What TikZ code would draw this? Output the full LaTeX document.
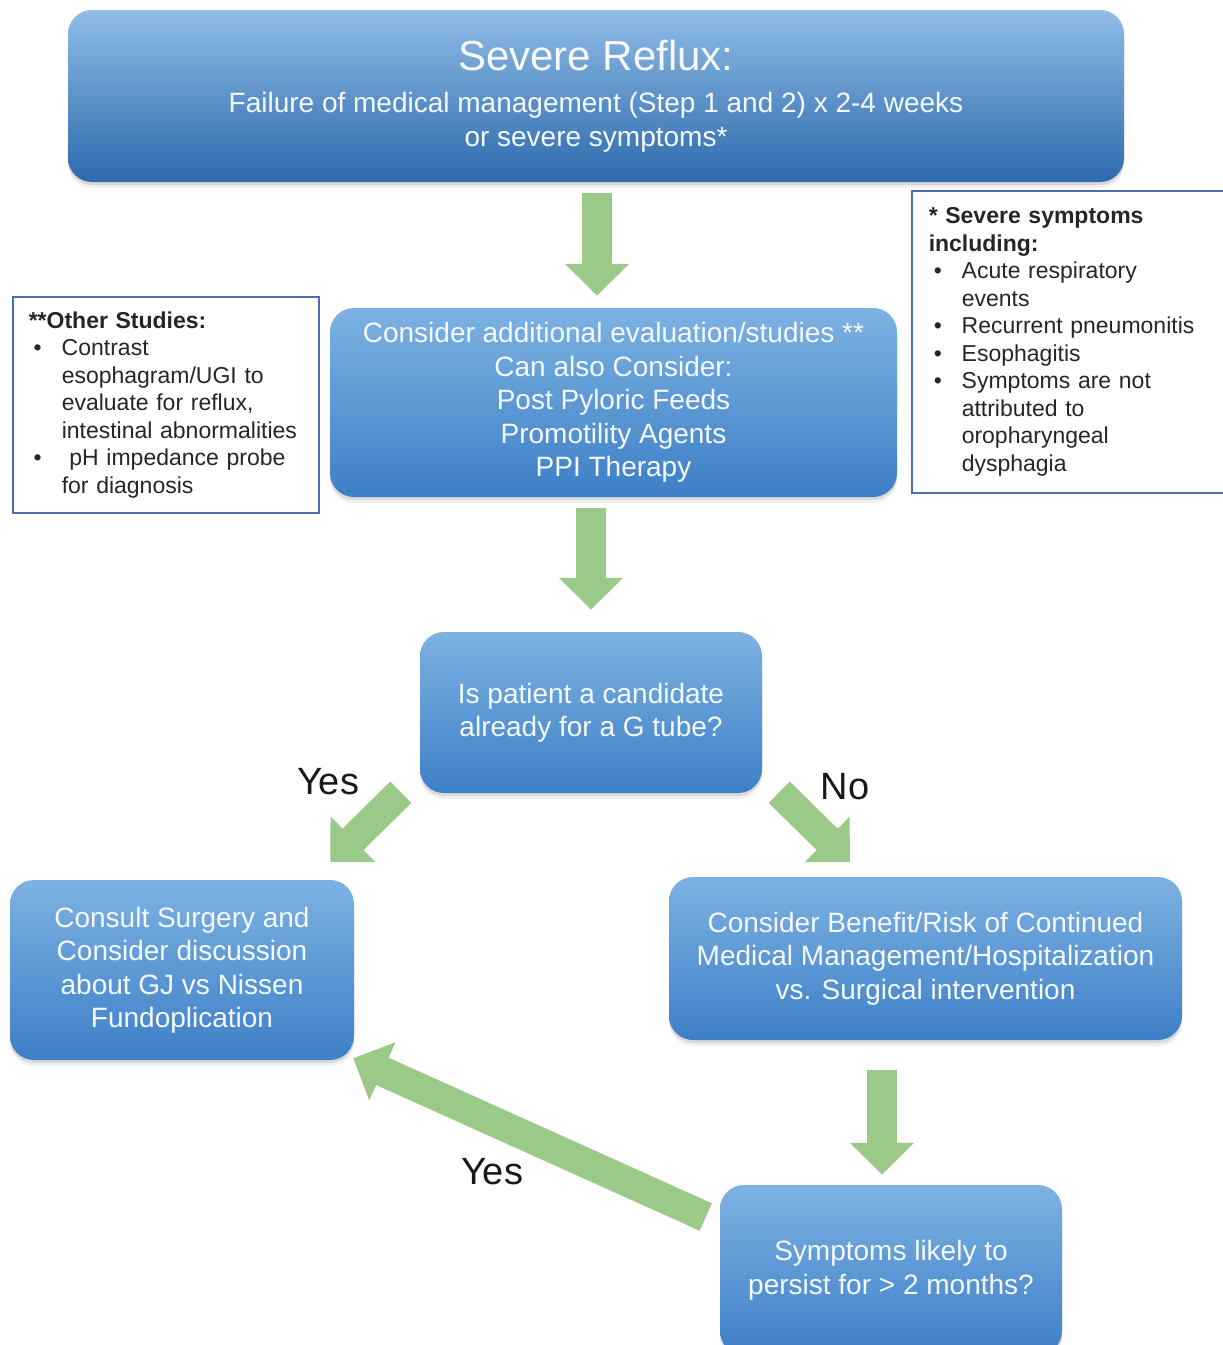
\documentclass[tikz,border=0pt]{standalone}
\usepackage{fontspec}
\setmainfont{Liberation Sans}
\usetikzlibrary{arrows.meta,shadows,calc}
\definecolor{boxtop}{HTML}{7DB2E2}
\definecolor{boxbot}{HTML}{3D7FC7}
\definecolor{headtop}{HTML}{8FBCE6}
\definecolor{headbot}{HTML}{2D6AAD}
\definecolor{arrowgreen}{HTML}{9BCA88}
\definecolor{noteborder}{HTML}{4A6FB5}
\definecolor{notetext}{HTML}{262626}
\definecolor{boxtext}{HTML}{F5F9FD}
\tikzset{
  flowbox/.style={rectangle, rounded corners=24pt, top color=boxtop, bottom color=boxbot,
    draw=none, text=boxtext, align=center, inner sep=0pt,
    font=\fontsize{28}{33.5}\selectfont,
    drop shadow={shadow xshift=0pt, shadow yshift=-3pt, opacity=0.14, fill=black!70},
    drop shadow={shadow xshift=0pt, shadow yshift=-6pt, opacity=0.08, fill=black!70}},
  notebox/.style={rectangle, draw=noteborder, line width=1.5pt, fill=white, text=notetext,
    anchor=north west, align=left, inner ysep=6pt,
    font=\fontsize{23}{27.5}\selectfont},
  garrow/.style={draw=arrowgreen, line width=30pt, -{Triangle[length=32pt, width=62pt]}},
  answer/.style={font=\fontsize{38}{44}\selectfont, text=black!90, inner sep=0pt}
}
\newcommand\bulletline[1]{\makebox[33pt][l]{\hspace{5pt}\textbullet}#1}
\newcommand\contline[1]{\hspace*{33pt}#1}
\begin{document}
\begin{tikzpicture}[x=1pt,y=-1pt]
\clip (0,0) rectangle (1223,1345);
\fill[white] (0,0) rectangle (1223,1345);

% main boxes
\node[flowbox, top color=headtop, bottom color=headbot, minimum width=1056, minimum height=172]
  (top) at (596,96)
  {{\fontsize{42}{46}\selectfont Severe Reflux:}\\[9pt]
   Failure of medical management (Step 1 and 2) x 2-4 weeks\\
   or severe symptoms*};
\node[flowbox, minimum width=567, minimum height=189] (mid) at (613.5,402.5)
  {Consider additional evaluation/studies **\\
   Can also Consider:\\
   Post Pyloric Feeds\\
   Promotility Agents\\
   PPI Therapy};
\node[flowbox, minimum width=342, minimum height=161] (dec) at (591,712.5)
  {Is patient a candidate\\already for a G tube?};
\node[flowbox, minimum width=344, minimum height=180] (lbox) at (182,970)
  {Consult Surgery and\\Consider discussion\\about GJ vs Nissen\\Fundoplication};
\node[flowbox, minimum width=513, minimum height=163] (rbox) at (925.5,958.5)
  {Consider Benefit/Risk of Continued\\Medical Management/Hospitalization\\vs. Surgical intervention};
\node[flowbox, minimum width=342, minimum height=170] (bbox) at (891,1270)
  {Symptoms likely to\\persist for > 2 months?};

% note boxes
\node[notebox, text width=274, inner xsep=16pt, minimum height=216] (lnote) at (12,296)
  {\textbf{**Other Studies:}\\
   \bulletline{Contrast}\\
   \contline{esophagram/UGI to}\\
   \contline{evaluate for reflux,}\\
   \contline{intestinal abnormalities}\\
   \bulletline{\ pH impedance probe}\\
   \contline{for diagnosis}};
\node[notebox, text width=280, inner xsep=17pt, minimum height=302] (rnote) at (911,190)
  {\textbf{* Severe symptoms}\\
   \textbf{including:}\\
   \bulletline{Acute respiratory}\\
   \contline{events}\\
   \bulletline{Recurrent pneumonitis}\\
   \bulletline{Esophagitis}\\
   \bulletline{Symptoms are not}\\
   \contline{attributed to}\\
   \contline{oropharyngeal}\\
   \contline{dysphagia}};

% arrows
\draw[garrow] ($(top.south)+(1,11)$) -- ($(mid.north)+(-16.5,-12)$);
\draw[garrow] ($(mid.south)+(-22.5,11)$) -- ($(dec.north)+(0,-22)$);
\draw[garrow] ($(dec.south west)+(-19,-1)$) -- ($(lbox.north east)+(-24,-18)$);
\draw[garrow] ($(dec.south east)+(17,-1)$) -- ($(rbox.north)+(-75.5,-15)$);
\draw[garrow] ($(rbox.south)+(-43.5,30)$) -- ($(bbox.north)+(-9,-10)$);
\draw[garrow] ($(bbox.west)+(-14,-53)$) -- ($(lbox.south east)+(-1,-2)$);

% answer labels
\node[answer] (yes1) at (328,782) {Yes};
\node[answer] (no1) at (845,787) {No};
\node[answer] (yes2) at (492,1172) {Yes};
\end{tikzpicture}
\end{document}
